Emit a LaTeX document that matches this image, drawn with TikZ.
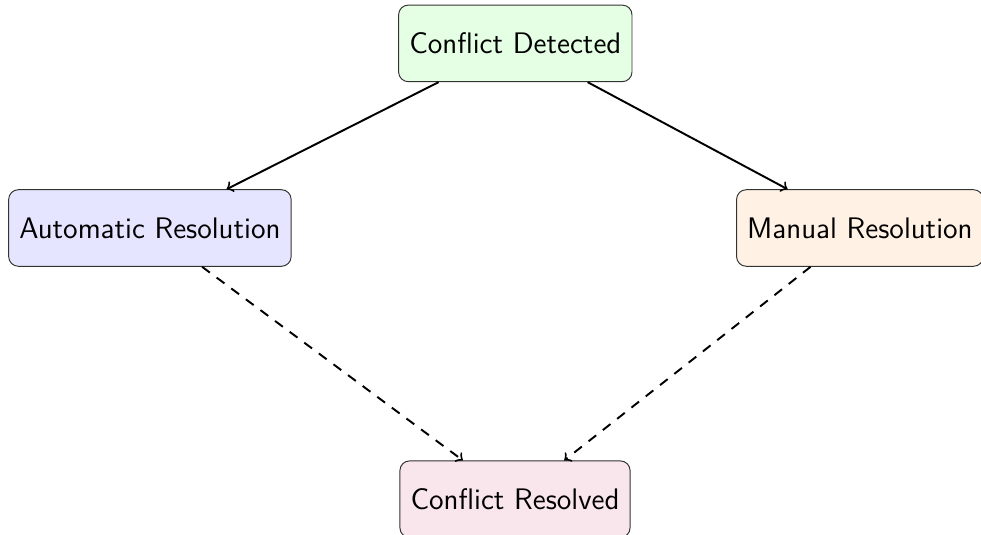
\documentclass[tikz,border=0pt]{standalone}
\usetikzlibrary{arrows}
\begin{document}
% one unit = 1/69 cm, y grows downwards
\begin{tikzpicture}[
  x=0.014493cm, y=-0.014493cm,
  font=\sffamily\fontsize{12.25}{15}\selectfont,
  box/.style={draw=black!80, rounded corners=4pt, minimum height=1.11cm,
              inner xsep=4.4pt, align=center},
  flow/.style={->, thick},
  alt/.style={->, thick, dash pattern=on 4pt off 3.5pt}
]
\useasboundingbox (0,0) rectangle (981,535);
\node[box, fill=green!10]  (detected) at (515.3,43.4) {Conflict Detected};
\node[box, fill=blue!10]   (auto)     at (149.9,228)  {Automatic Resolution};
\node[box, fill=orange!10] (manual)   at (859.9,228)  {Manual Resolution};
\node[box, fill=purple!10] (resolved) at (515,499.2)  {Conflict Resolved};
\draw[flow] (detected) -- (auto);
\draw[flow] (detected) -- (manual);
\draw[alt] (auto) -- (resolved);
\draw[alt] (manual) -- (resolved);
\end{tikzpicture}
\end{document}
